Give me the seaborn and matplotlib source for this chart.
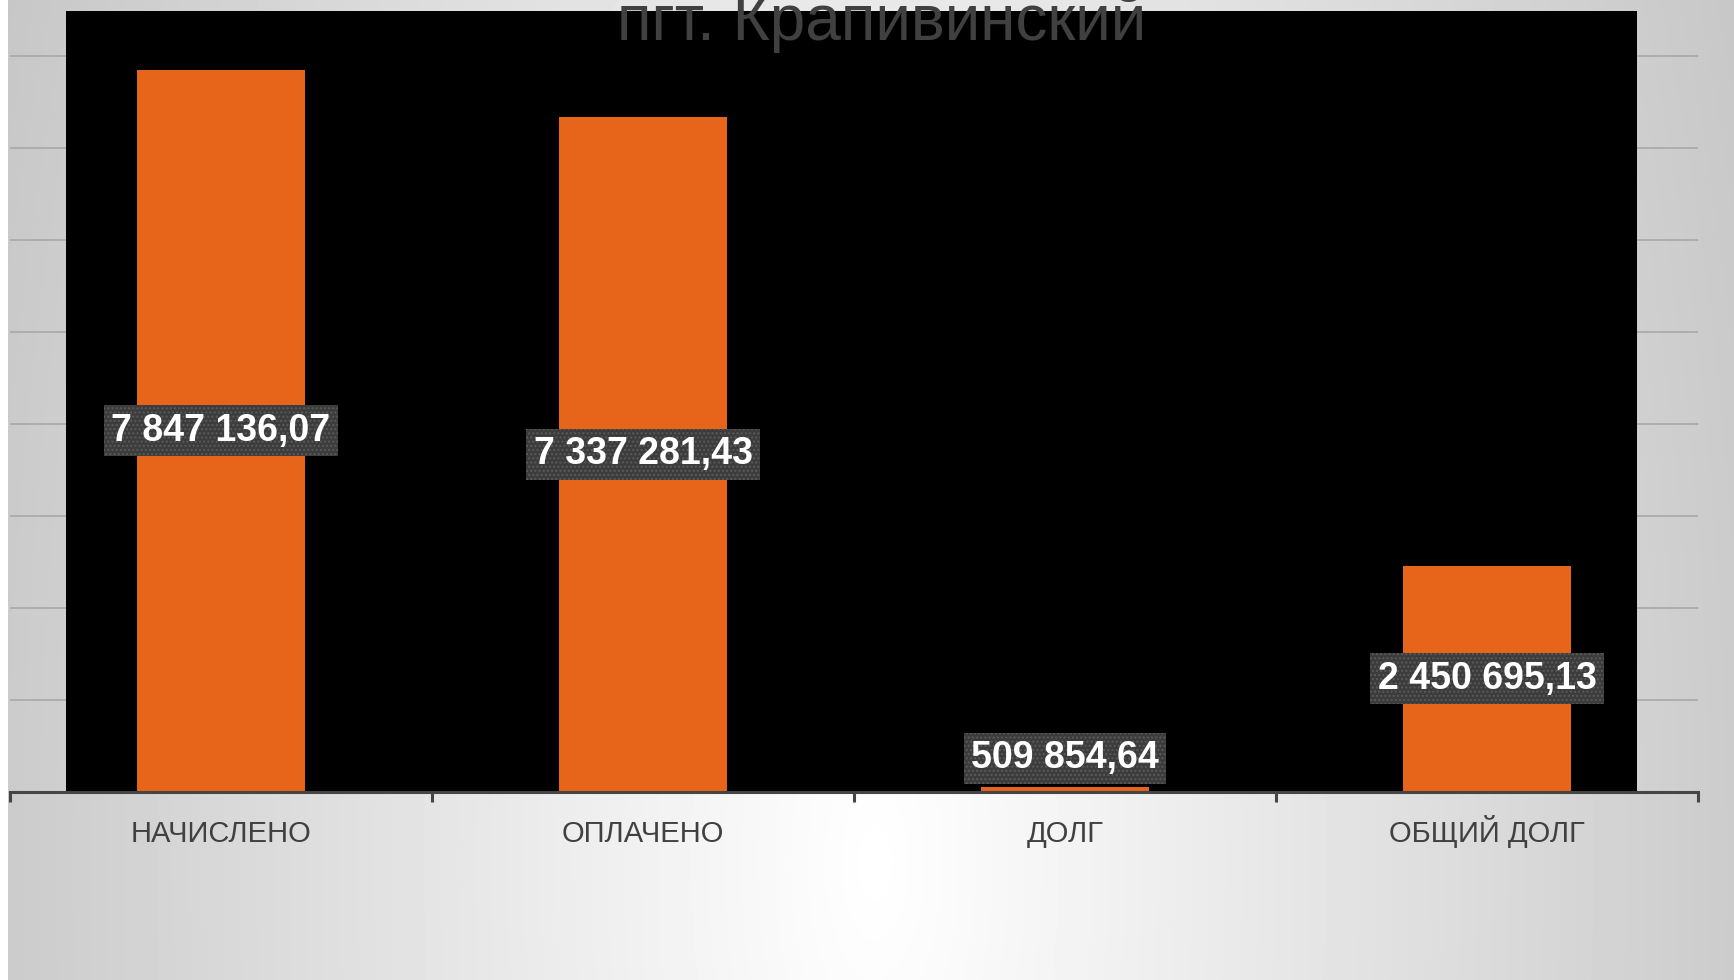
import numpy as np
import pandas as pd
import matplotlib
matplotlib.use("Agg")
import matplotlib.pyplot as plt
import seaborn as sns
from matplotlib.patches import Rectangle

# data
categories = ["НАЧИСЛЕНО", "ОПЛАЧЕНО", "ДОЛГ", "ОБЩИЙ ДОЛГ"]
bar_values = [7847136.07, 7337281.43, 50985.46, 2450695.13]   # bar heights as drawn
label_texts = ["7 847 136,07", "7 337 281,43", "509 854,64", "2 450 695,13"]
title = "пгт. Крапивинский"

df = pd.DataFrame({"cat": categories, "val": bar_values})

sns.set_theme(style="white")
plt.rcParams['font.family'] = ['Liberation Sans', 'DejaVu Sans']

W, H = 1734, 980
fig = plt.figure(figsize=(W / 100, H / 100), dpi=100)
fig.patch.set_facecolor("white")

# gray radial gradient background (brightest bottom-centre)
bg = fig.add_axes([8 / W, 0, 1 - 8 / W, 1], zorder=-10)
py, px = np.mgrid[0:H:245j, 8:W:430j]
d = np.sqrt(((px - 875) / 900) ** 2 + ((py - 865) / 2100) ** 2)
g = np.clip(1.0 - 0.21 * d, 0.76, 1.0)
bg.imshow(g, cmap="gray", vmin=0, vmax=1, origin="upper", aspect="auto",
          extent=[0, 1, 0, 1], interpolation="bilinear")
bg.axis("off")

# main axes
ax = fig.add_axes([10 / W, 188.5 / H, 1688 / W, 9 * 91.9 / H])
ax.set_facecolor("none")
ax.set_axisbelow(True)

# black panel behind the bars
ax.add_patch(Rectangle((66 / W, 189 / H), 1571 / W, 780 / H, transform=fig.transFigure,
                       facecolor="black", edgecolor="none", zorder=0.8, clip_on=False))

sns.barplot(data=df, x="cat", y="val", color="#E7651A", width=0.4,
            saturation=1, ax=ax, zorder=2, edgecolor="none", linewidth=0)

ax.set_xlim(-0.5, 3.5)
ax.set_ylim(0, 9e6)
ax.set_yticks(np.arange(1e6, 9e6, 1e6))
ax.yaxis.grid(True, color="#a8a8a8", linewidth=1.2)
ax.tick_params(axis="y", left=False, labelleft=False)
for s in ["top", "right", "left"]:
    ax.spines[s].set_visible(False)
ax.spines["bottom"].set_color("#454545")
ax.spines["bottom"].set_linewidth(2.2)
ax.spines["bottom"].set_zorder(3)

# ticks at category boundaries
ax.set_xticks(np.arange(-0.5, 4, 1))
ax.set_xticklabels([])
ax.tick_params(axis="x", which="major", direction="out", length=7, width=2.2,
               color="#454545", bottom=True)
ax.set_xlabel("")
ax.set_ylabel("")

# category labels on a common baseline
for i, c in enumerate(categories):
    ax.text(i, -50 / (9 * 91.9) * 9e6, c, ha="center", va="baseline",
            color="#404040", fontsize=21)

# value labels
min_y = 0.36e6
for i, (v, t) in enumerate(zip(bar_values, label_texts)):
    ax.text(i, max(v / 2, min_y), t, ha="center", va="center", color="white",
            fontsize=27, fontweight="bold", zorder=5,
            bbox=dict(boxstyle="square,pad=0.2", facecolor="#3c3c3c",
                      edgecolor="#5a5a5a", linewidth=0, hatch="...."))

fig.text(882 / W, 1 - 40 / H, title, ha="center", va="baseline", color="#404040",
         fontsize=46)

fig.savefig("out.png", dpi=100)
